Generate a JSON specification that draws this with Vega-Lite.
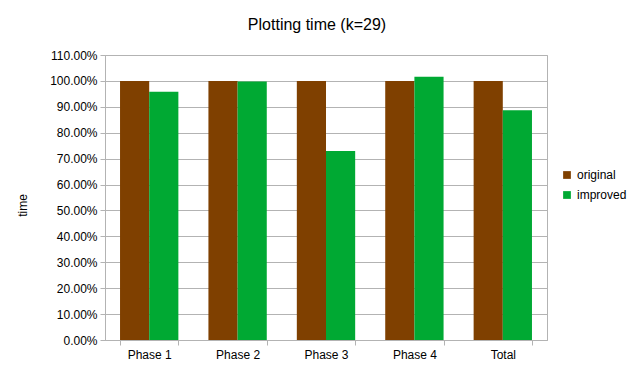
{
  "$schema": "https://vega.github.io/schema/vega-lite/v6.json",
  "width": 442,
  "height": 285,
  "autosize": "none",
  "padding": {"left": 105, "top": 55, "right": 90, "bottom": 31},
  "background": "white",
  "config": {
    "font": "Liberation Sans",
    "view": {"stroke": "#b3b3b3", "strokeWidth": 1}
  },
  "title": {
    "text": "Plotting time (k=29)",
    "fontSize": 16,
    "font": "Liberation Sans",
    "fontWeight": "normal",
    "color": "#000000",
    "anchor": "middle",
    "dx": -9,
    "offset": 16
  },
  "data": {
    "values": [
      {"phase": "Phase 1", "series": "original", "value": 1.0},
      {"phase": "Phase 1", "series": "improved", "value": 0.958},
      {"phase": "Phase 2", "series": "original", "value": 1.0},
      {"phase": "Phase 2", "series": "improved", "value": 0.998},
      {"phase": "Phase 3", "series": "original", "value": 1.0},
      {"phase": "Phase 3", "series": "improved", "value": 0.729},
      {"phase": "Phase 4", "series": "original", "value": 1.0},
      {"phase": "Phase 4", "series": "improved", "value": 1.016},
      {"phase": "Total", "series": "original", "value": 1.0},
      {"phase": "Total", "series": "improved", "value": 0.887}
    ]
  },
  "mark": {"type": "bar"},
  "encoding": {
    "x": {
      "field": "phase",
      "type": "nominal",
      "sort": null,
      "scale": {"paddingInner": 0.34, "paddingOuter": 0.17},
      "axis": {
        "title": null,
        "labelAngle": 0,
        "labelFontSize": 12,
        "labelColor": "#000000",
        "domainColor": "#b3b3b3",
        "tickColor": "#b3b3b3",
        "tickSize": 5,
        "tickBand": "extent",
        "labelPadding": 4
      }
    },
    "xOffset": {
      "field": "series",
      "type": "nominal",
      "sort": ["original", "improved"],
      "scale": {"paddingInner": 0, "paddingOuter": 0}
    },
    "y": {
      "field": "value",
      "type": "quantitative",
      "scale": {"domain": [0, 1.1], "nice": false},
      "axis": {
        "title": "time",
        "titleFontSize": 12,
        "titleFontWeight": "normal",
        "titleColor": "#000000",
        "titlePadding": 20,
        "titleY": 150,
        "format": ".2%",
        "values": [0, 0.1, 0.2, 0.3, 0.4, 0.5, 0.6, 0.7, 0.8, 0.9, 1.0, 1.1],
        "labelFontSize": 12,
        "labelColor": "#000000",
        "domainColor": "#b3b3b3",
        "tickColor": "#b3b3b3",
        "tickSize": 5,
        "gridColor": "#b3b3b3",
        "gridOpacity": 1,
        "labelPadding": 3
      }
    },
    "color": {
      "field": "series",
      "type": "nominal",
      "sort": ["original", "improved"],
      "scale": {"domain": ["original", "improved"], "range": ["#7f4000", "#00a933"]},
      "legend": {
        "title": null,
        "orient": "none",
        "legendX": 456,
        "legendY": 114,
        "symbolType": "square",
        "symbolSize": 60,
        "symbolStrokeWidth": 0,
        "labelFontSize": 12,
        "labelColor": "#000000",
        "rowPadding": 8,
        "labelOffset": 4
      }
    }
  }
}
